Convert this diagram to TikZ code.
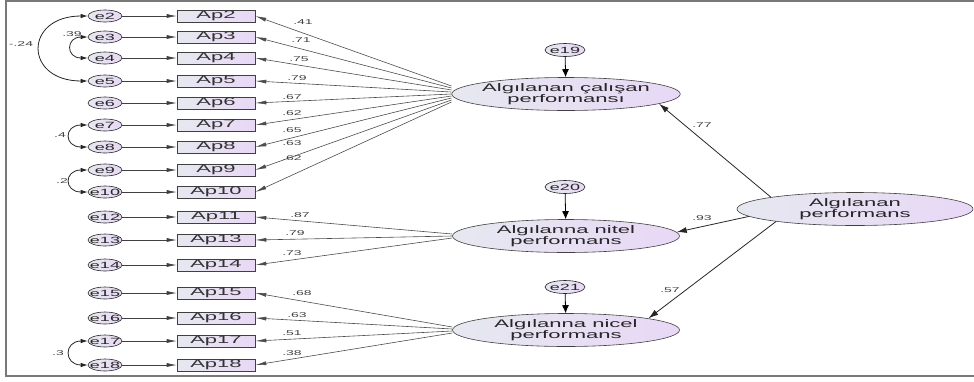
\documentclass[tikz,border=0pt]{standalone}
\usepackage{fontspec}
\newfontfamily\amosfont[FakeStretch=2]{Liberation Sans}
\usetikzlibrary{arrows.meta,shapes.geometric,calc}
\definecolor{amosgris}{RGB}{230,232,240}
\definecolor{amoslav}{RGB}{232,216,246}
\definecolor{cadre}{RGB}{120,120,120}

\begin{document}
\begin{tikzpicture}[x=1pt,y=-1pt,
  obs/.style={rectangle,draw=black!75,semithick,left color=amosgris,right color=amoslav,minimum width=78pt,minimum height=12pt,inner sep=0pt,font=\amosfont\fontsize{11}{11}\selectfont,text=black!80},
  err/.style={ellipse,draw=black!85,semithick,left color=amosgris,right color=amoslav,minimum width=34pt,minimum height=12pt,inner sep=0pt,font=\amosfont\fontsize{9}{9}\selectfont,text=black!85},
  lat/.style={ellipse,draw=black!75,semithick,left color=amosgris,right color=amoslav,minimum width=227pt,minimum height=33pt,inner xsep=-3pt,inner ysep=1pt,align=center,font=\amosfont\fontsize{11}{10.5}\selectfont,text=black!85},
  coef/.style={font=\amosfont\fontsize{7}{7}\selectfont,inner sep=0pt,text=black!75},
  fl/.style={-{Latex[length=11pt,width=4pt]},draw=black!70,line width=0.6pt},
  ferr/.style={-{Latex[length=10pt,width=4pt]},draw=black!75,line width=0.6pt},
  fstr/.style={-{Latex[length=10pt,width=6pt]},draw=black!85,thick},
  cov/.style={{Latex[length=7pt,width=4.5pt]}-{Latex[length=7pt,width=4.5pt]},draw=black!85,thick}
]
\useasboundingbox (0,0) rectangle (974,381);
%cadre
\draw[cadre,line width=1.5pt] (974,1) -- (6,1) -- (6,376) -- (974,376);

%indicateurs et erreurs
\foreach \a/\e/\y in {2/2/16,3/3/37,4/4/58,5/5/81,6/6/103,7/7/125,8/8/147,9/9/170,10/10/192,11/12/217,13/13/240,14/14/265,15/15/293,16/16/318,17/17/341,18/18/365}{
  \node[obs] (ap\a) at (216,\y) {Ap\a};
  \node[err] (e\e) at (105,\y) {\makebox[0pt]{e\e}};
  \draw[ferr] (e\e) -- (ap\a);
}

%variables latentes
\node[lat] (cal) at (566,94) {Algılanan çalışan\\performansı};
\node[lat] (nit) at (566,236) {Algılanna nitel\\performans};
\node[lat] (nic) at (566,330) {Algılanna nicel\\performans};
\node[lat,minimum width=236pt] (perf) at (855,209) {Algılanan\\performans};

%erreurs des latentes
\node[err,minimum width=40pt,minimum height=13pt] (e19) at (565,50) {\makebox[0pt]{e19}};
\node[err,minimum width=40pt,minimum height=13pt] (e20) at (565,187) {\makebox[0pt]{e20}};
\node[err,minimum width=40pt,minimum height=13pt] (e21) at (565,287) {\makebox[0pt]{e21}};
\draw[-{Latex[length=8pt,width=7pt]},thick] (e19) -- (cal);
\draw[-{Latex[length=8pt,width=7pt]},thick] (e20) -- (nit);
\draw[-{Latex[length=8pt,width=7pt]},thick] (e21) -- (nic);

%saturations
\foreach \a/\v/\dy/\lx/\ly in {2/.41/-8/303/22,3/.71/-6/301/40,4/.75/-4/299/59,5/.79/-2/297/78,6/.67/0/292/97,7/.62/2/292/113,8/.65/4/292/130,9/.63/6/292/143,10/.62/8/292/158}{
  \draw[fl] ($(cal.west)+(0,\dy)$) -- (ap\a.east);
  \node[coef] (c\a) at (\lx,\ly) {\v};
}
\foreach \a/\v/\dy/\lx/\ly in {11/.87/-2/300/215,13/.79/0/295/233,14/.73/2/292/253}{
  \draw[fl] ($(nit.west)+(0,\dy)$) -- (ap\a.east);
  \node[coef] (c\a) at (\lx,\ly) {\v};
}
\foreach \a/\v/\dy/\lx/\ly in {15/.68/-3/302/293,16/.63/-1/297/315,17/.51/1/292/333,18/.38/3/292/353}{
  \draw[fl] ($(nic.west)+(0,\dy)$) -- (ap\a.east);
  \node[coef] (c\a) at (\lx,\ly) {\v};
}

%second ordre
\draw[fstr] (perf.172) -- (cal.354);
\draw[fstr] (perf.184) -- (nit.2);
\draw[fstr] (perf.189) -- (nic.8);
\node[coef] (c77) at (702,125) {.77};
\node[coef] (c93) at (702,218) {.93};
\node[coef] (c57) at (670,290) {.57};

%covariances
\draw[cov] (e2.west) .. controls +(-64,0) and +(-64,0) .. (e5.west);
\node[coef] (c25) at (21,44) {-.24};
\draw[cov] (e3.west) .. controls +(-22,0) and +(-22,0) .. (e4.west);
\node[coef] (c34) at (72,34) {.39};
\draw[cov] (e7.west) .. controls +(-24,0) and +(-24,0) .. (e8.west);
\node[coef] (c78) at (60,135) {.4};
\draw[cov] (e9.west) .. controls +(-24,0) and +(-24,0) .. (e10.west);
\node[coef] (c910) at (62,181) {.2};
\draw[cov] (e17.west) .. controls +(-24,0) and +(-24,0) .. (e18.west);
\node[coef] (c1718) at (58,353) {.3};
\end{tikzpicture}
\end{document}
